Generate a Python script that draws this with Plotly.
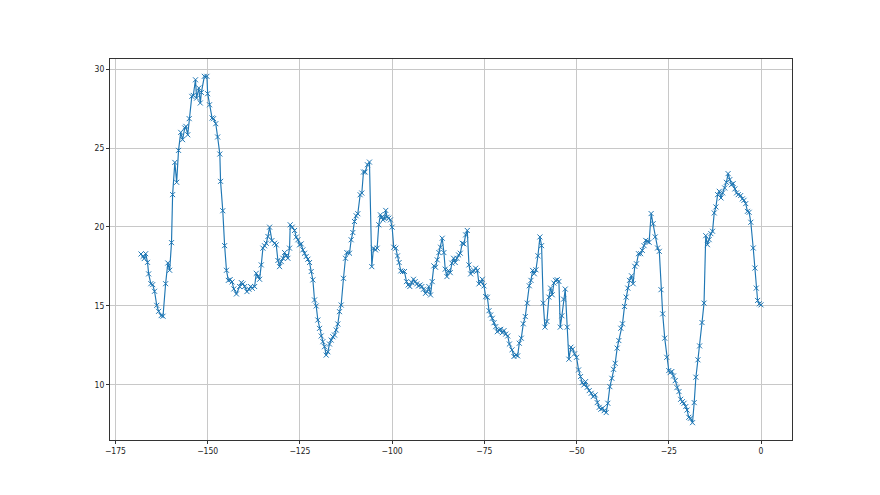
import plotly.graph_objects as go

# ---- data (x, y per segment) ----
x_seg1 = [-168.07, -167.5, -167.2, -166.8, -166.3, -166.0, -165.4, -164.9, -164.4, -163.8,
          -163.3, -162.6, -162.1, -161.4, -160.8, -160.3, -159.8, -159.5, -158.9, -158.4,
          -157.9, -157.3, -156.8, -156.2, -155.9, -155.4, -155.0, -154.3, -153.9, -153.3,
          -153.0, -152.4, -152.0, -151.7, -150.9, -150.2, -150.0, -149.5, -148.8, -148.4,
          -147.8, -147.3, -146.7, -146.5, -145.9, -145.4, -144.9, -144.4, -143.9, -143.4,
          -142.9, -142.2]
y_seg1 = [18.29, 18.14, 18.0, 18.31, 17.76, 17.03, 16.41, 16.35, 15.93, 15.04,
          14.66, 14.39, 14.35, 16.41, 17.72, 17.26, 19.01, 22.05, 24.09, 22.83,
          24.85, 25.99, 25.53, 26.27, 26.37, 25.84, 26.86, 28.27, 28.33, 29.32,
          28.16, 28.80, 27.85, 28.52, 29.54, 29.54, 28.44, 27.74, 26.90, 26.86,
          26.54, 25.70, 24.62, 22.89, 21.03, 18.82, 17.26, 16.62, 16.67, 16.52,
          16.08, 15.76]

x_seg2 = [-141.34, -140.88, -140.43, -139.98, -139.35, -138.81, -138.36, -137.91, -137.27, -136.82,
          -136.37, -135.92, -135.47, -135.02, -134.57, -134.12, -133.66, -133.21, -132.58, -131.86,
          -131.41, -130.96, -130.51, -130.05, -129.60, -129.15, -128.70, -128.25, -127.80, -127.62,
          -127.08, -126.44, -125.99, -125.54, -125.09, -124.64, -124.19, -123.74, -123.29, -122.83,
          -122.38, -121.93, -121.48, -121.03, -120.58, -120.13, -119.68, -119.22, -118.77, -118.32,
          -117.87, -117.42, -116.97, -116.52, -116.07, -115.61, -115.16, -114.71, -114.26, -113.81,
          -113.18, -112.64, -112.27, -111.55, -111.10, -110.65, -110.20, -109.75, -109.30, -108.66,
          -108.21, -107.76, -107.31, -106.68, -106.14, -105.51, -105.05, -104.51, -104.06, -103.61]
y_seg2 = [16.23, 16.48, 16.40, 16.23, 15.91, 16.06, 16.23, 16.12, 16.23, 17.07,
          16.86, 16.69, 17.60, 18.66, 18.81, 18.97, 19.40, 19.99, 19.14, 18.97,
          18.87, 17.88, 17.49, 17.81, 18.02, 18.38, 18.17, 18.02, 18.66, 20.14,
          19.99, 19.78, 19.36, 19.19, 18.87, 18.93, 18.55, 18.34, 18.13, 17.96,
          17.75, 17.18, 16.65, 15.38, 15.00, 14.11, 13.58, 13.10, 12.74, 12.42,
          11.89, 12.10, 12.59, 12.84, 13.05, 13.16, 13.48, 13.86, 14.64, 15.06,
          16.75, 18.02, 18.38, 18.34, 19.19, 19.65, 20.35, 20.71, 20.84, 22.04,
          22.15, 23.48, 23.48, 23.94, 24.11, 17.49, 18.66, 18.55, 18.66, 20.14]

x_seg3 = [-103.17, -102.81, -102.45, -102.08, -101.72, -101.36, -100.91, -100.45, -100.0, -99.55,
          -99.00, -98.55, -98.10, -97.64, -97.19, -96.65, -96.10, -95.65, -95.20, -94.66,
          -94.20, -93.75, -93.30, -92.84, -92.39, -91.94, -91.49, -90.94, -90.49, -90.04,
          -89.58, -89.13, -88.68, -88.22, -87.77, -87.32, -86.87, -86.41, -85.96, -85.60,
          -85.14, -84.69, -84.24, -83.79, -83.33, -82.88, -82.43, -81.97, -81.52, -80.98,
          -80.53, -80.07, -79.62, -79.17, -78.71, -78.26, -77.81, -77.36, -76.90, -76.45,
          -76.00, -75.54, -75.09, -74.64, -74.18, -73.73, -73.28, -72.83, -72.37, -71.92,
          -71.47, -71.01, -70.56, -70.11, -69.66, -69.20, -68.66, -68.21]
y_seg3 = [20.77, 20.62, 20.45, 20.56, 21.05, 20.62, 20.56, 20.45, 19.99, 18.72,
          18.66, 18.17, 17.75, 17.22, 17.18, 17.18, 16.54, 16.33, 16.23, 16.48,
          16.69, 16.54, 16.40, 16.27, 16.33, 16.23, 16.06, 15.80, 15.91, 16.23,
          15.70, 16.54, 17.54, 17.45, 17.92, 18.38, 18.72, 19.29, 18.38, 17.33,
          16.86, 17.24, 17.11, 17.71, 18.02, 17.75, 18.02, 18.23, 18.34, 18.97,
          18.93, 19.50, 19.78, 17.60, 17.03, 17.18, 17.24, 17.39, 17.24, 16.40,
          16.54, 16.69, 16.27, 15.59, 15.55, 14.70, 14.43, 14.22, 13.94, 13.69,
          13.37, 13.48, 13.52, 13.31, 13.44, 13.22, 13.10, 12.59]

x_seg4 = [-67.51, -66.97, -66.43, -65.97, -65.52, -64.98, -64.44, -63.90, -63.36, -62.82,
          -62.36, -61.91, -61.46, -61.01, -60.47, -59.93, -59.48, -59.03, -58.57, -58.03,
          -57.49, -57.04, -56.59, -56.14, -55.69, -55.23, -54.78, -54.42, -53.97, -53.52,
          -53.07, -52.53, -52.08, -51.53, -51.08, -50.54, -50.00, -49.46, -48.92, -48.47,
          -48.01, -47.56, -47.11, -46.57, -46.03, -45.49, -44.95, -44.40, -43.86, -43.41,
          -42.96, -42.51, -41.97, -41.52, -40.97, -40.43, -39.98, -39.53, -38.99, -38.54,
          -38.00, -37.55, -37.00, -36.55, -36.10, -35.65, -35.11, -34.66, -34.21, -33.75,
          -33.21]
y_seg4 = [12.22, 11.80, 11.90, 11.84, 12.64, 12.96, 13.87, 14.33, 15.18, 16.28,
          16.62, 17.25, 17.04, 17.29, 18.18, 19.37, 18.82, 15.18, 13.66, 14.02,
          15.56, 16.13, 15.71, 16.45, 16.62, 16.66, 16.55, 13.66, 14.38, 15.43,
          16.07, 13.66, 11.63, 12.39, 12.26, 11.97, 11.75, 10.95, 10.53, 10.15,
          10.00, 10.21, 9.85, 9.64, 9.47, 9.26, 9.37, 8.88, 8.58, 8.46,
          8.52, 8.37, 8.25, 8.84, 9.89, 10.42, 10.99, 11.37, 12.33, 12.81,
          13.59, 13.87, 14.97, 15.56, 16.13, 16.62, 16.91, 16.41, 17.51, 17.67,
          18.31]

x_seg5 = [-32.63, -32.17, -31.71, -31.25, -30.79, -30.33, -29.78, -29.23, -28.68, -28.03,
          -27.57, -27.11, -26.65, -26.10, -25.55, -25.0, -24.63, -24.17, -23.71, -23.25,
          -22.79, -22.24, -21.78, -21.32, -20.86, -20.40, -20.04, -19.58, -19.12, -18.57,
          -18.11, -17.65, -17.10, -16.64, -15.99, -15.44, -14.98, -14.52, -14.06, -13.60,
          -13.14, -12.68, -12.22, -11.76, -11.31, -10.85, -10.39, -9.83, -9.38, -8.92,
          -8.46, -8.00, -7.54, -7.08, -6.62, -6.16, -5.51, -5.05, -4.60, -4.14,
          -3.68, -3.22, -2.76, -2.11, -1.65, -1.29, -0.92, -0.46, 0.0]
y_seg5 = [18.31, 18.52, 18.82, 19.15, 19.09, 19.03, 20.85, 20.21, 19.37, 18.67,
          18.46, 16.03, 14.50, 12.96, 11.75, 10.91, 10.78, 10.85, 10.57, 10.27,
          9.83, 9.58, 9.09, 8.94, 8.84, 8.63, 8.41, 7.95, 7.89, 7.61,
          8.88, 10.49, 11.59, 12.47, 13.95, 15.18, 19.45, 18.88, 19.20, 19.58,
          19.73, 20.89, 21.27, 22.05, 22.26, 21.84, 22.16, 22.47, 22.83, 23.38,
          23.00, 22.68, 22.75, 22.41, 22.16, 22.05, 21.99, 21.78, 21.69, 21.48,
          20.99, 20.93, 20.30, 18.67, 17.40, 16.13, 15.35, 15.14, 15.07]

x_ticks = [-175, -150, -125, -100, -75, -50, -25, 0]
y_ticks = [10, 15, 20, 25, 30]

xs_all = [x_seg1, x_seg2, x_seg3, x_seg4, x_seg5]
ys_all = [y_seg1, y_seg2, y_seg3, y_seg4, y_seg5]
x = []
y = []
for i, (a, b) in enumerate(zip(xs_all, ys_all)):
    assert len(a) == len(b), f"segment {i+1}: {len(a)} x vs {len(b)} y"
    x += a
    y += b

# matplotlib-like autoscale with 5% margins
xmin, xmax = min(x), max(x)
ymin, ymax = min(y), max(y)
xm = (xmax - xmin) * 0.05
ym = (ymax - ymin) * 0.05

blue = "#1f77b4"
fig = go.Figure(go.Scatter(
    x=x, y=y, mode="lines+markers",
    line=dict(color=blue, width=1.15),
    marker=dict(symbol="x-thin", size=5, color=blue, line=dict(color=blue, width=1)),
    showlegend=False,
))

axis_common = dict(
    showgrid=True, gridcolor="#c8c8c8", gridwidth=1,
    showline=True, linecolor="#333333", linewidth=1, mirror=True,
    ticks="outside", ticklen=3, tickwidth=1, tickcolor="#333333",
    zeroline=False,
    tickfont=dict(family="DejaVu Sans Condensed", size=8.5, color="#222222"),
)

fig.update_layout(
    width=880, height=495,
    margin=dict(l=102, r=96, t=51, b=63),
    paper_bgcolor="white", plot_bgcolor="white",
    xaxis=dict(range=[xmin - xm, xmax + xm], tickvals=x_ticks, **axis_common),
    yaxis=dict(range=[ymin - ym, ymax + ym], tickvals=y_ticks, **axis_common),
)

fig.write_html("out.html")
